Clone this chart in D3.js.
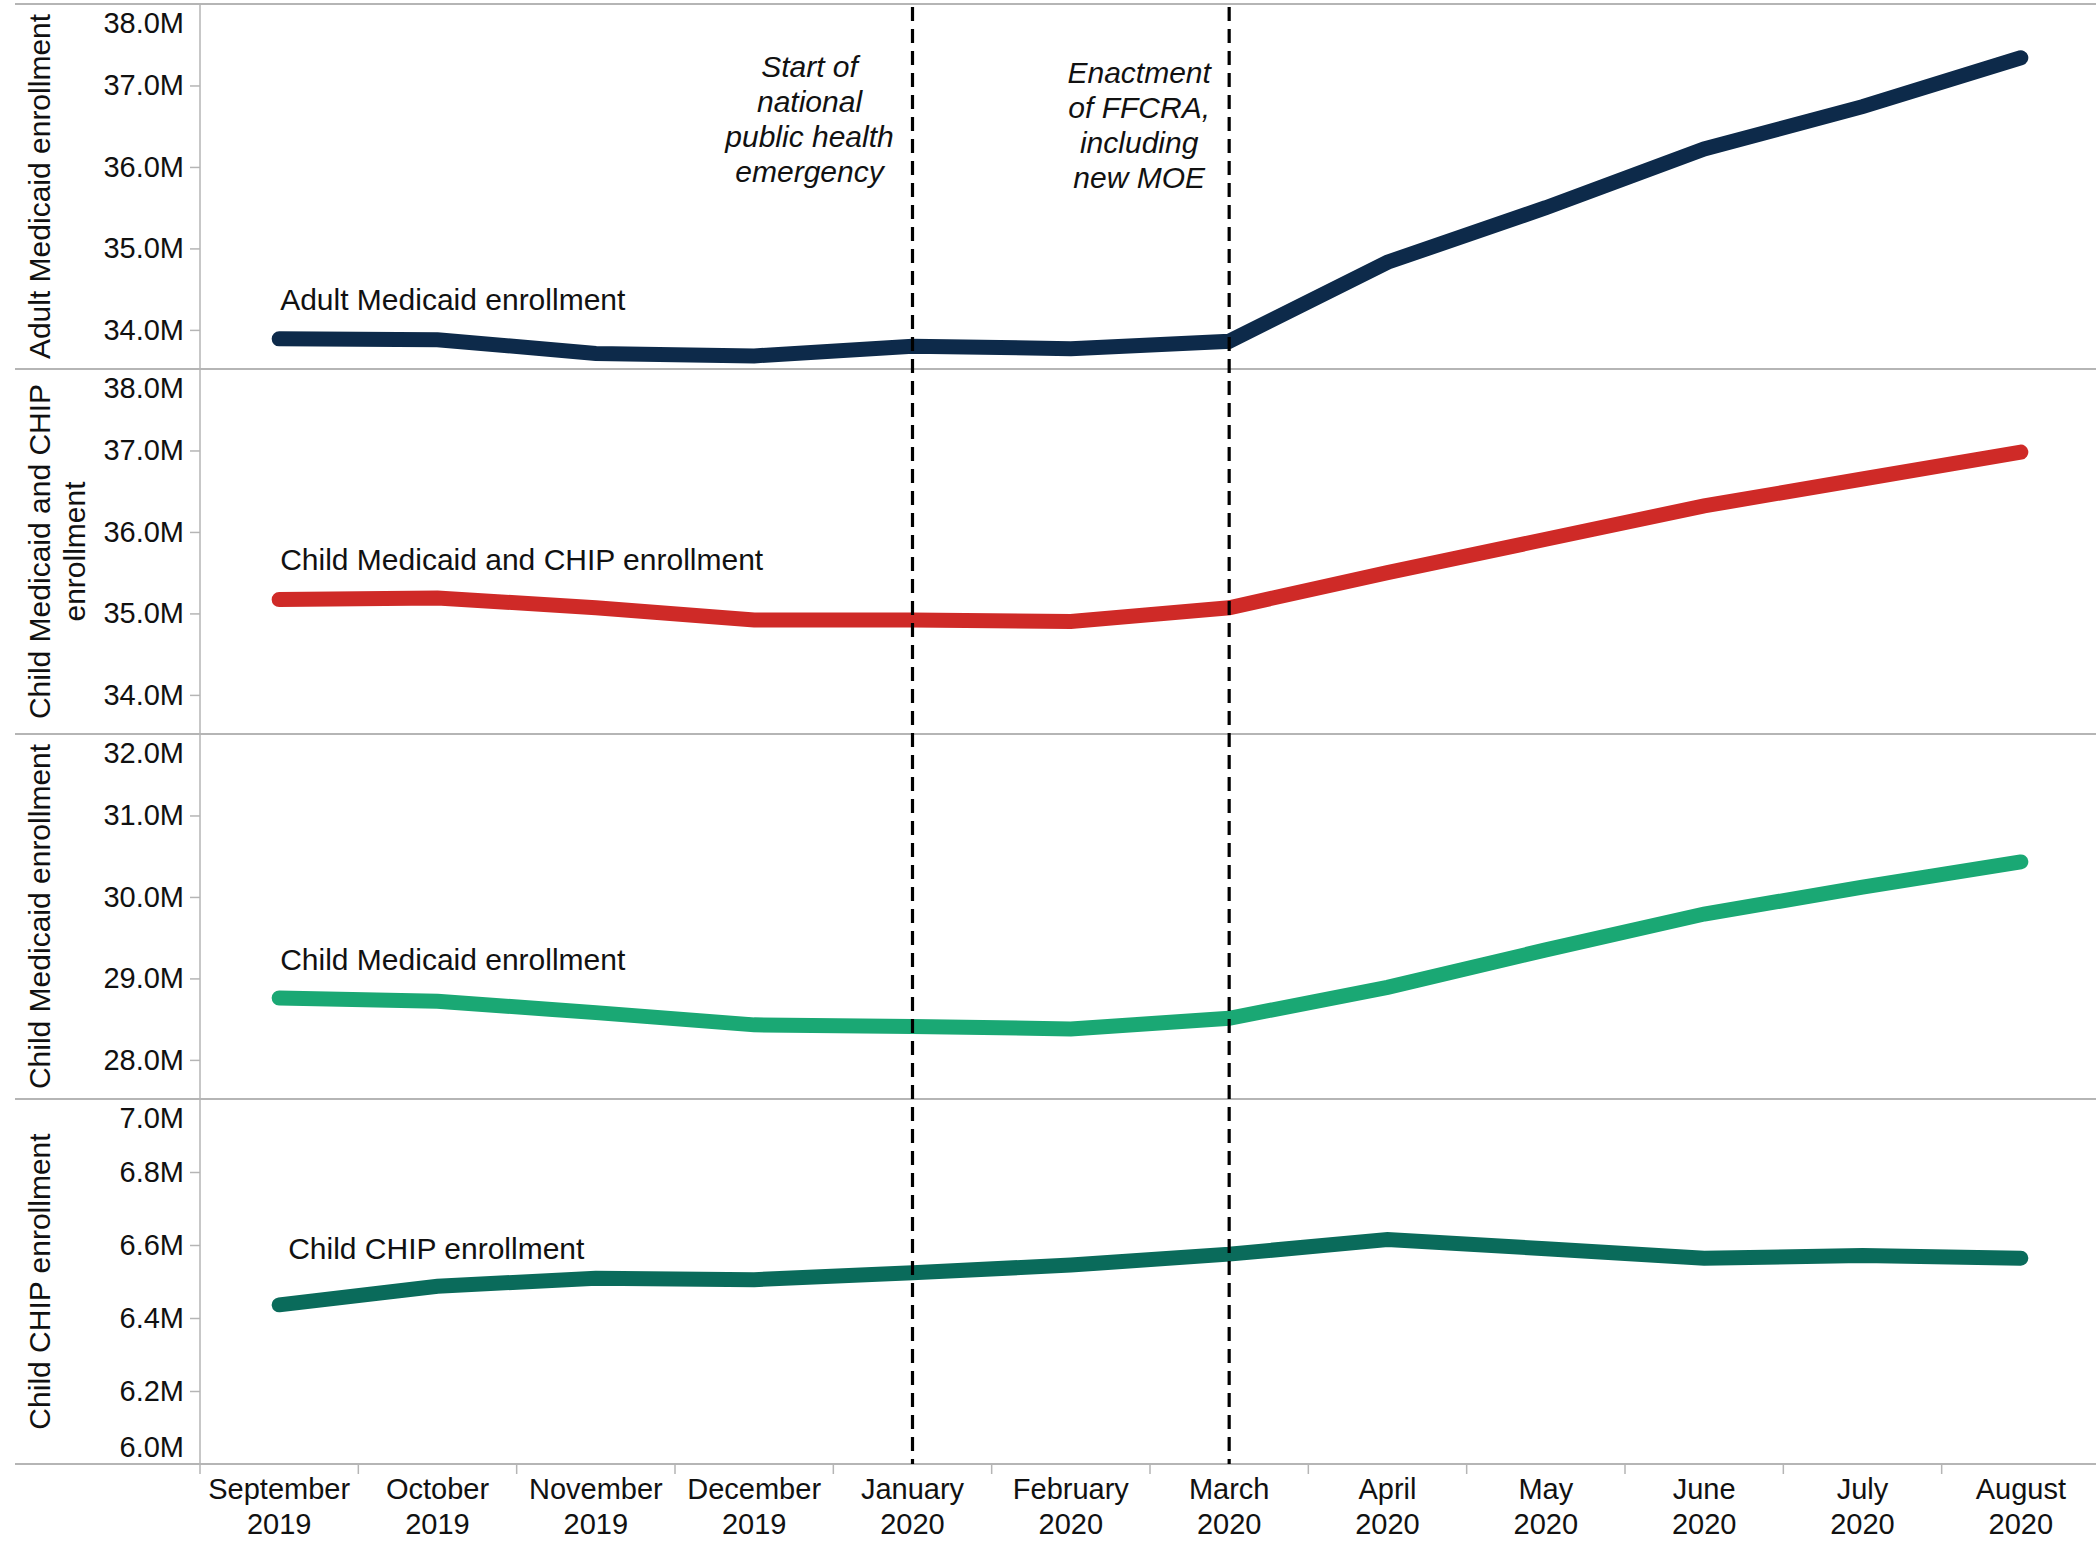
<!DOCTYPE html>
<html>
<head>
<meta charset="utf-8">
<script src="https://cdn.jsdelivr.net/npm/d3@7"></script>
<style>
  html, body { margin: 0; padding: 0; background: #ffffff; }
  svg { display: block; font-family: "Liberation Sans", Arial, Helvetica, sans-serif; }
</style>
</head>
<body>
<svg id="chart" width="2096" height="1549"></svg>
<script>
// ---------------- data ----------------
const months = ["September", "October", "November", "December", "January", "February",
                "March", "April", "May", "June", "July", "August"];
const years  = ["2019", "2019", "2019", "2019", "2020", "2020",
                "2020", "2020", "2020", "2020", "2020", "2020"];

// enrollment, millions
const adultMedicaid      = [33.89, 33.88, 33.71, 33.68, 33.80, 33.77, 33.86, 34.83, 35.50, 36.22, 36.74, 37.34];
const childMedicaidCHIP  = [35.17, 35.19, 35.07, 34.92, 34.92, 34.90, 35.07, 35.50, 35.91, 36.32, 36.65, 36.98];
const childMedicaid      = [28.76, 28.72, 28.58, 28.43, 28.41, 28.38, 28.51, 28.89, 29.35, 29.79, 30.12, 30.43];
const childCHIP          = [6.436, 6.487, 6.509, 6.505, 6.524, 6.545, 6.575, 6.615, 6.590, 6.564, 6.571, 6.564];

const seriesLabels = ["Adult Medicaid enrollment", "Child Medicaid and CHIP enrollment",
                      "Child Medicaid enrollment", "Child CHIP enrollment"];
const axisTitles = [["Adult Medicaid enrollment"], ["Child Medicaid and CHIP", "enrollment"],
                    ["Child Medicaid enrollment"], ["Child CHIP enrollment"]];
const yDomains = [[33.52, 38.0], [33.52, 38.0], [27.52, 32.0], [6.0, 7.0]];
const yTicks = [[34, 35, 36, 37, 38], [34, 35, 36, 37, 38], [28, 29, 30, 31, 32],
                [6.0, 6.2, 6.4, 6.6, 6.8, 7.0]];

const eventMonths = ["January", "March"];
const eventLabels = [["Start of", "national", "public health", "emergency"],
                     ["Enactment", "of FFCRA,", "including", "new MOE"]];

// ---------------- styling / layout ----------------
const seriesData = [adultMedicaid, childMedicaidCHIP, childMedicaid, childCHIP];
const colors = ["#0d2a4a", "#cf2a27", "#1aa874", "#0a6b5b"];
const labelOffset = [[1, -29], [1, -30], [1, -28], [9, -46]];
const eventTextDx = [-103, -90];
const eventTextTop = [77, 83];

const plotLeft = 200, plotRight = 2096, xRangeEnd = 2100, plotTop = 4, plotBottom = 1464, sepLeft = 15;
const nPanels = 4;
const panelH = (plotBottom - plotTop) / nPanels;
const gridColor = "#b5b5b5";
const TICKFONT = 29, FONT = 30;

const svg = d3.select("#chart");

const x = d3.scaleBand().domain(months).range([plotLeft, xRangeEnd]).padding(0);
const cx = m => x(m) + x.bandwidth() / 2;

// panels
seriesData.forEach((vals, i) => {
  const pTop = plotTop + i * panelH, pBot = pTop + panelH;
  const y = d3.scaleLinear().domain(yDomains[i]).range([pBot, pTop]);
  const g = svg.append("g");

  // separator on top
  g.append("line").attr("x1", sepLeft).attr("x2", plotRight).attr("y1", pTop).attr("y2", pTop)
    .attr("stroke", gridColor).attr("stroke-width", 2);

  // y axis
  const ax = g.append("g").attr("transform", `translate(${plotLeft},0)`)
    .call(d3.axisLeft(y).tickValues(yTicks[i]).tickSize(10).tickPadding(6)
      .tickFormat(d => d.toFixed(1) + "M"));
  ax.select(".domain").remove();
  ax.selectAll(".tick line").attr("stroke", gridColor).attr("stroke-width", 1.5)
    .attr("display", d => (Math.abs(y(d) - pTop) < 3 || Math.abs(y(d) - pBot) < 3) ? "none" : null);
  ax.selectAll(".tick text").attr("font-size", TICKFONT).attr("font-family", null).attr("fill", "#111")
    .attr("y", d => {
      const py = y(d);
      const clamped = Math.max(pTop + 19, Math.min(pBot - 17, py));
      return clamped - py;
    });

  // axis title
  const titleLines = axisTitles[i];
  const tcy = (pTop + pBot) / 2;
  const tg = g.append("text").attr("transform", `translate(0,${tcy}) rotate(-90)`)
    .attr("text-anchor", "middle").attr("font-size", FONT).attr("fill", "#111");
  titleLines.forEach((t, k) => {
    tg.append("tspan").attr("x", 0).attr("y", 50 + k * 35).text(t);
  });

  // series line
  const line = d3.line().x((d, k) => cx(months[k])).y(d => y(d));
  g.append("path").datum(vals).attr("d", line).attr("fill", "none")
    .attr("stroke", colors[i]).attr("stroke-width", 15)
    .attr("stroke-linecap", "round").attr("stroke-linejoin", "miter");

  // series label
  g.append("text").attr("x", cx(months[0]) + labelOffset[i][0])
    .attr("y", y(vals[0]) + labelOffset[i][1])
    .attr("font-size", FONT).attr("fill", "#111").text(seriesLabels[i]);
});

// bottom axis line
svg.append("line").attr("x1", sepLeft).attr("x2", plotRight).attr("y1", plotBottom).attr("y2", plotBottom)
  .attr("stroke", gridColor).attr("stroke-width", 2);
// vertical axis line
svg.append("line").attr("x1", plotLeft).attr("x2", plotLeft).attr("y1", plotTop).attr("y2", plotBottom)
  .attr("stroke", gridColor).attr("stroke-width", 1.5);

// x ticks at band boundaries
const bounds = months.map(m => x(m));
svg.append("g").selectAll("line").data(bounds).join("line")
  .attr("x1", d => d).attr("x2", d => d).attr("y1", plotBottom).attr("y2", plotBottom + 10)
  .attr("stroke", gridColor).attr("stroke-width", 1.5);

// x labels
const xl = svg.append("g").selectAll("text").data(months).join("text")
  .attr("text-anchor", "middle").attr("font-size", TICKFONT).attr("fill", "#111");
xl.append("tspan").attr("x", d => cx(d)).attr("y", 1499).text(d => d);
xl.append("tspan").attr("x", d => cx(d)).attr("y", 1534).text((d, k) => years[k]);

// event lines + annotations
eventMonths.forEach((m, i) => {
  const ex = cx(m);
  svg.append("line").attr("x1", ex).attr("x2", ex).attr("y1", plotTop + 3).attr("y2", plotBottom)
    .attr("stroke", "#000").attr("stroke-width", 3.2).attr("stroke-dasharray", "14,8");
  const t = svg.append("text").attr("text-anchor", "middle").attr("font-size", FONT)
    .attr("font-style", "italic").attr("fill", "#111");
  eventLabels[i].forEach((s, k) => {
    t.append("tspan").attr("x", ex + eventTextDx[i]).attr("y", eventTextTop[i] + k * 35).text(s);
  });
});
</script>
</body>
</html>
